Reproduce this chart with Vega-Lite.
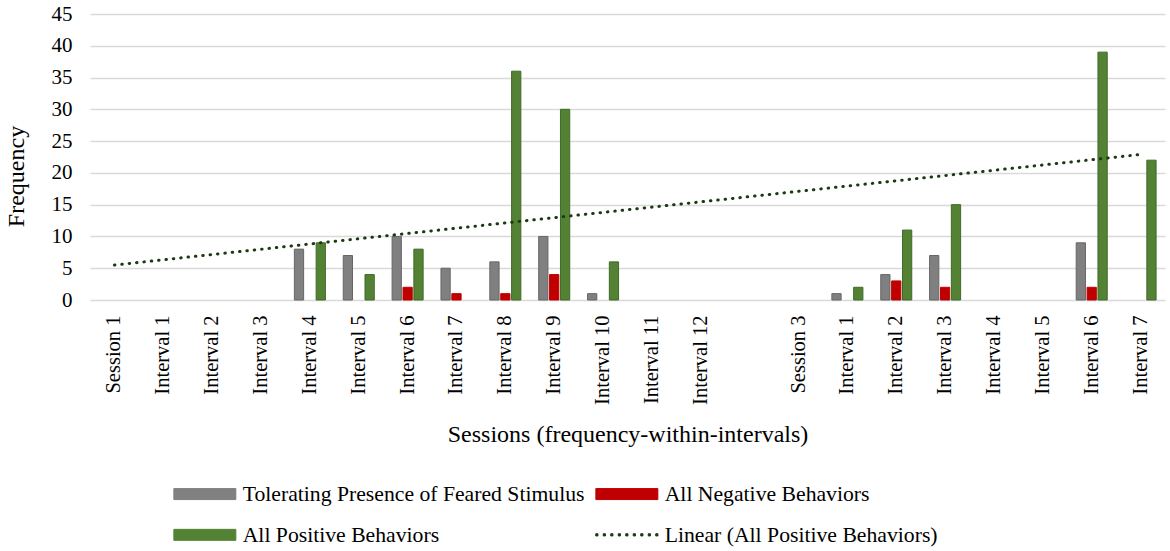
{
  "$schema": "https://vega.github.io/schema/vega-lite/v6.json",
  "width": 1075,
  "height": 286,
  "autosize": {"type": "none"},
  "padding": {"left": 90, "top": 14, "right": 5, "bottom": 251},
  "background": "white",
  "config": {"view": {"stroke": null}},
  "datasets": {
    "bars": [
      {"cat": "S1|Interval 4", "series": "Tolerating Presence of Feared Stimulus", "value": 8},
      {"cat": "S1|Interval 4", "series": "All Positive Behaviors", "value": 9},
      {"cat": "S1|Interval 5", "series": "Tolerating Presence of Feared Stimulus", "value": 7},
      {"cat": "S1|Interval 5", "series": "All Positive Behaviors", "value": 4},
      {"cat": "S1|Interval 6", "series": "Tolerating Presence of Feared Stimulus", "value": 10},
      {"cat": "S1|Interval 6", "series": "All Negative Behaviors", "value": 2},
      {"cat": "S1|Interval 6", "series": "All Positive Behaviors", "value": 8},
      {"cat": "S1|Interval 7", "series": "Tolerating Presence of Feared Stimulus", "value": 5},
      {"cat": "S1|Interval 7", "series": "All Negative Behaviors", "value": 1},
      {"cat": "S1|Interval 8", "series": "Tolerating Presence of Feared Stimulus", "value": 6},
      {"cat": "S1|Interval 8", "series": "All Negative Behaviors", "value": 1},
      {"cat": "S1|Interval 8", "series": "All Positive Behaviors", "value": 36},
      {"cat": "S1|Interval 9", "series": "Tolerating Presence of Feared Stimulus", "value": 10},
      {"cat": "S1|Interval 9", "series": "All Negative Behaviors", "value": 4},
      {"cat": "S1|Interval 9", "series": "All Positive Behaviors", "value": 30},
      {"cat": "S1|Interval 10", "series": "Tolerating Presence of Feared Stimulus", "value": 1},
      {"cat": "S1|Interval 10", "series": "All Positive Behaviors", "value": 6},
      {"cat": "S3|Interval 1", "series": "Tolerating Presence of Feared Stimulus", "value": 1},
      {"cat": "S3|Interval 1", "series": "All Positive Behaviors", "value": 2},
      {"cat": "S3|Interval 2", "series": "Tolerating Presence of Feared Stimulus", "value": 4},
      {"cat": "S3|Interval 2", "series": "All Negative Behaviors", "value": 3},
      {"cat": "S3|Interval 2", "series": "All Positive Behaviors", "value": 11},
      {"cat": "S3|Interval 3", "series": "Tolerating Presence of Feared Stimulus", "value": 7},
      {"cat": "S3|Interval 3", "series": "All Negative Behaviors", "value": 2},
      {"cat": "S3|Interval 3", "series": "All Positive Behaviors", "value": 15},
      {"cat": "S3|Interval 6", "series": "Tolerating Presence of Feared Stimulus", "value": 9},
      {"cat": "S3|Interval 6", "series": "All Negative Behaviors", "value": 2},
      {"cat": "S3|Interval 6", "series": "All Positive Behaviors", "value": 39},
      {"cat": "S3|Interval 7", "series": "All Positive Behaviors", "value": 22}
    ],
    "trend": [
      {"cat": "S1|Session 1", "value": 5.5},
      {"cat": "S3|Interval 7", "value": 22.9}
    ]
  },
  "layer": [
    {
      "data": {"name": "bars"},
      "mark": {"type": "bar", "strokeWidth": 1},
      "encoding": {
        "x": {
          "field": "cat",
          "type": "nominal",
          "title": "Sessions (frequency-within-intervals)",
          "scale": {
            "domain": ["S1|Session 1", "S1|Interval 1", "S1|Interval 2", "S1|Interval 3", "S1|Interval 4", "S1|Interval 5", "S1|Interval 6", "S1|Interval 7", "S1|Interval 8", "S1|Interval 9", "S1|Interval 10", "S1|Interval 11", "S1|Interval 12", "gap|", "S3|Session 3", "S3|Interval 1", "S3|Interval 2", "S3|Interval 3", "S3|Interval 4", "S3|Interval 5", "S3|Interval 6", "S3|Interval 7"],
            "paddingInner": 0.365,
            "paddingOuter": 0.1825
          },
          "axis": {
            "labelExpr": "split(datum.label, '|')[1]",
            "labelAngle": -90,
            "labelAlign": "right",
            "labelBaseline": "middle",
            "labelOverlap": false,
            "labelLimit": 0,
            "ticks": false,
            "domain": false,
            "grid": false,
            "labelPadding": 15,
            "labelFont": "Liberation Serif",
            "labelFontSize": 20.5,
            "labelColor": "black",
            "titleFont": "Liberation Serif",
            "titleFontSize": 24,
            "titleFontWeight": "normal",
            "titleColor": "black",
            "titlePadding": 18
          }
        },
        "xOffset": {
          "field": "series",
          "type": "nominal",
          "scale": {
            "domain": ["Tolerating Presence of Feared Stimulus", "All Negative Behaviors", "All Positive Behaviors"],
            "paddingInner": 0.15,
            "paddingOuter": 0
          }
        },
        "y": {
          "field": "value",
          "type": "quantitative",
          "title": "Frequency",
          "scale": {"domain": [0, 45], "nice": false},
          "axis": {
            "values": [0, 5, 10, 15, 20, 25, 30, 35, 40, 45],
            "tickCount": 20,
            "labelOverlap": false,
            "ticks": false,
            "domain": false,
            "gridColor": "#d9d9d9",
            "gridWidth": 1.5,
            "labelPadding": 18,
            "labelFont": "Liberation Serif",
            "labelFontSize": 21,
            "labelColor": "black",
            "titleFont": "Liberation Serif",
            "titleFontSize": 24,
            "titleFontWeight": "normal",
            "titleColor": "black",
            "titleAngle": -90,
            "titleAlign": "center",
            "titleBaseline": "middle",
            "titleX": -74,
            "titleY": 162
          }
        },
        "color": {
          "field": "series",
          "type": "nominal",
          "scale": {
            "domain": ["Tolerating Presence of Feared Stimulus", "All Negative Behaviors", "All Positive Behaviors", "Linear (All Positive Behaviors)"],
            "range": ["#808080", "#c00000", "#548235", "#1c3a12"]
          },
          "legend": {
            "orient": "none",
            "legendX": 104,
            "legendY": 469,
            "title": null,
            "direction": "horizontal",
            "columns": 2,
            "padding": 0,
            "symbolSize": 400,
            "labelOffset": 27,
            "columnPadding": 8,
            "rowPadding": 18,
            "labelFont": "Liberation Serif",
            "labelFontSize": 21.7,
            "labelColor": "black",
            "labelLimit": 0,
            "encode": {
              "symbols": {
                "update": {
                  "shape": {"signal": "datum.value === 'Linear (All Positive Behaviors)' ? 'M-3.11,-0.11h0.22v0.22h-0.22z M-2.36,-0.11h0.22v0.22h-0.22z M-1.61,-0.11h0.22v0.22h-0.22z M-0.86,-0.11h0.22v0.22h-0.22z M-0.11,-0.11h0.22v0.22h-0.22z M0.64,-0.11h0.22v0.22h-0.22z M1.39,-0.11h0.22v0.22h-0.22z M2.14,-0.11h0.22v0.22h-0.22z M2.89,-0.11h0.22v0.22h-0.22z' : 'M-3.1,-0.55H3.1V0.55H-3.1Z'"},
                  "fill": {"signal": "scale('color', datum.value)"},
                  "stroke": {"signal": "datum.value === 'Tolerating Presence of Feared Stimulus' ? '#666666' : datum.value === 'All Positive Behaviors' ? '#3f6a28' : datum.value === 'All Negative Behaviors' ? '#c00000' : 'transparent'"},
                  "strokeWidth": {"value": 1},
                  "opacity": {"value": 1}
                }
              }
            }
          }
        },
        "stroke": {
          "field": "series",
          "type": "nominal",
          "scale": {
            "domain": ["Tolerating Presence of Feared Stimulus", "All Negative Behaviors", "All Positive Behaviors"],
            "range": ["#666666", "#c00000", "#3f6a28"]
          },
          "legend": null
        }
      }
    },
    {
      "data": {"name": "trend"},
      "mark": {"type": "line", "strokeWidth": 3, "strokeDash": [0.5, 6.9], "strokeCap": "round"},
      "encoding": {
        "x": {"field": "cat", "type": "nominal"},
        "y": {"field": "value", "type": "quantitative"},
        "color": {"datum": "Linear (All Positive Behaviors)"}
      }
    }
  ]
}
